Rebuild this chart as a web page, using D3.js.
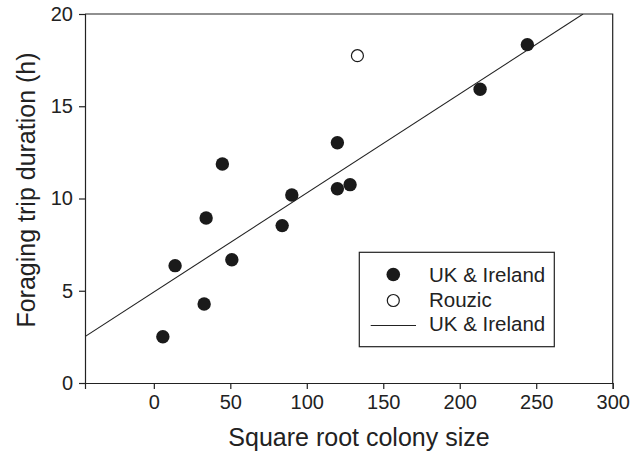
<!DOCTYPE html>
<meta charset="utf-8">
<script src="https://d3js.org/d3.v7.min.js"></script>
<style>
  body { margin: 0; background: #fff; }
  text { font-family: "Liberation Sans", Arial, Helvetica, sans-serif; fill: #222; }
</style>
<div id="chart"></div>
<script>
// UK & Ireland colonies (filled)
const ukX = [5.9, 13.9, 32.9, 34.2, 44.8, 51, 83.9, 90.2, 120, 120, 128.3, 213.3, 244.2];
const ukY = [2.51, 6.36, 4.28, 8.94, 11.87, 6.68, 8.53, 10.19, 13.02, 10.53, 10.75, 15.92, 18.34];
// Rouzic (open)
const rzX = [133.1];
const rzY = [17.74];
// regression line for UK & Ireland
const fitIntercept = 4.93;
const fitSlope = 0.0537;

const xTicks = [0, 50, 100, 150, 200, 250, 300];
const yTicks = [0, 5, 10, 15, 20];
const legendLabels = ["UK & Ireland", "Rouzic", "UK & Ireland"];

const W = 642, H = 454;
const plotL = 85, plotR = 612.7, plotT = 14, plotB = 383;

const svg = d3.select("#chart")
  .append("svg")
    .attr("width", W)
    .attr("height", H);

const x = d3.scaleLinear().domain([-45, 300]).range([plotL, plotR]);
const y = d3.scaleLinear().domain([0, 20]).range([plotB, plotT]);

// frame (top + right)
svg.append("path")
  .attr("d", `M${plotL},${plotT}H${plotR}V${plotB}`)
  .attr("fill", "none")
  .attr("stroke", "#222")
  .attr("stroke-width", 1.2);

// axes
const xAxis = svg.append("g")
  .attr("transform", `translate(0,${plotB})`)
  .call(d3.axisBottom(x).tickValues(xTicks).tickSize(6).tickPadding(6));
const yAxis = svg.append("g")
  .attr("transform", `translate(${plotL},0)`)
  .call(d3.axisLeft(y).tickValues(yTicks).tickSize(6).tickPadding(6));

[xAxis, yAxis].forEach(g => {
  g.select(".domain").attr("stroke", "#222").attr("stroke-width", 1.2);
  g.selectAll(".tick line").attr("stroke", "#222").attr("stroke-width", 1.2);
  g.selectAll(".tick text")
    .attr("font-family", null)
    .attr("fill", "#222")
    .style("font-size", "20px");
});

// axis titles
svg.append("text")
  .attr("x", 359)
  .attr("y", 446)
  .attr("text-anchor", "middle")
  .style("font-size", "25px")
  .text("Square root colony size");

svg.append("text")
  .attr("transform", `translate(34.5,190) rotate(-90)`)
  .attr("text-anchor", "middle")
  .style("font-size", "25px")
  .text("Foraging trip duration (h)");

// regression line, clipped to plot
svg.append("clipPath").attr("id", "plotclip")
  .append("rect")
    .attr("x", plotL).attr("y", plotT)
    .attr("width", plotR - plotL).attr("height", plotB - plotT);

const xEnd = (20 - fitIntercept) / fitSlope;
svg.append("line")
  .attr("clip-path", "url(#plotclip)")
  .attr("x1", x(-45)).attr("y1", y(fitIntercept + fitSlope * -45))
  .attr("x2", x(xEnd)).attr("y2", y(fitIntercept + fitSlope * xEnd))
  .attr("stroke", "#222")
  .attr("stroke-width", 1.1);

// points
svg.selectAll("circle.uk")
  .data(ukX.map((d, i) => [d, ukY[i]]))
  .join("circle")
    .attr("class", "uk")
    .attr("cx", d => x(d[0]))
    .attr("cy", d => y(d[1]))
    .attr("r", 6.7)
    .attr("fill", "#1a1a1a");

svg.selectAll("circle.rz")
  .data(rzX.map((d, i) => [d, rzY[i]]))
  .join("circle")
    .attr("class", "rz")
    .attr("cx", d => x(d[0]))
    .attr("cy", d => y(d[1]))
    .attr("r", 6)
    .attr("fill", "#fff")
    .attr("stroke", "#1a1a1a")
    .attr("stroke-width", 1.2);

// legend
const lg = svg.append("g");
lg.append("rect")
  .attr("x", 359.3).attr("y", 252.3)
  .attr("width", 195).attr("height", 94.4)
  .attr("fill", "#fff")
  .attr("stroke", "#222")
  .attr("stroke-width", 1.2);

lg.append("circle")
  .attr("cx", 393.3).attr("cy", 274.5).attr("r", 6.8)
  .attr("fill", "#1a1a1a");
lg.append("circle")
  .attr("cx", 393.3).attr("cy", 300.5).attr("r", 6)
  .attr("fill", "#fff").attr("stroke", "#1a1a1a").attr("stroke-width", 1.2);
lg.append("line")
  .attr("x1", 370.7).attr("x2", 416).attr("y1", 325.5).attr("y2", 325.5)
  .attr("stroke", "#222").attr("stroke-width", 1.1);

lg.selectAll("text")
  .data(legendLabels)
  .join("text")
    .attr("x", 429)
    .attr("y", (d, i) => 281.7 + i * 24.8)
    .style("font-size", "20.5px")
    .text(d => d);
</script>
